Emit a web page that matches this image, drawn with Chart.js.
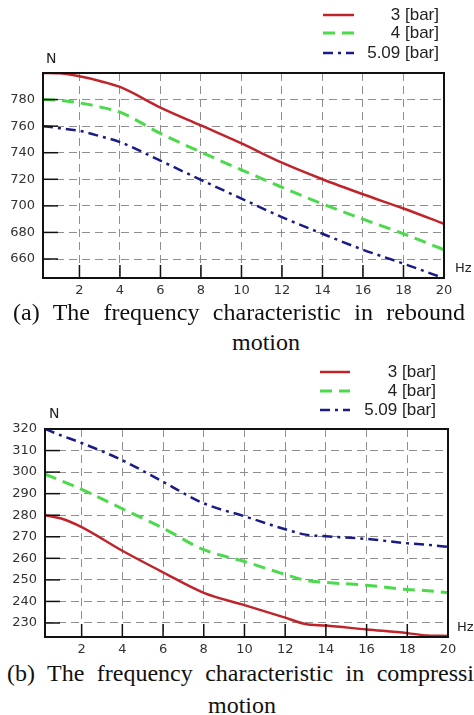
<!DOCTYPE html>
<html>
<head>
<meta charset="utf-8">
<script src="https://cdn.jsdelivr.net/npm/chart.js@4/dist/chart.umd.min.js"></script>
<style>
  html, body { margin: 0; padding: 0; background: #fff; }
  body { position: relative; width: 474px; height: 715px; overflow: hidden; }
  canvas { position: absolute; left: 0; }
  #chart-a { top: 0; }
  #chart-b { top: 350px; }
  .caption {
    position: absolute;
    font-family: "Liberation Serif", "Times New Roman", serif;
    font-size: 24px;
    line-height: 26px;
    color: #111;
    white-space: nowrap;
  }
  .caption.first { text-align: justify; text-align-last: justify; white-space: normal; }
</style>
</head>
<body>
<canvas id="chart-a" width="474" height="300"></canvas>
<div class="caption first" style="top:299px; left:13px; width:452px;">(a) The frequency characteristic in rebound</div>
<div class="caption" style="top:329px; left:232px;">motion</div>

<canvas id="chart-b" width="474" height="310"></canvas>
<div class="caption first" style="top:660px; left:7px; width:491px;">(b) The frequency characteristic in compression</div>
<div class="caption" style="top:692px; left:208px;">motion</div>

<script>
// series labels (shared by both panels)
const seriesLabels = ['3 [bar]', '4 [bar]', '5.09 [bar]'];

// (a) rebound motion
const freqA = [0.2, 1, 2, 3, 4, 6, 8, 10, 12, 14, 16, 18, 20];
const reboundBar3 = [800, 799.8, 797.5, 794, 789.5, 774, 760.5, 747, 732.5, 720, 708.7, 698, 686.5];
const reboundBar4 = [780, 779.5, 777.5, 774.5, 770.5, 754.5, 740.5, 727, 714, 701.5, 690, 679, 667];
const reboundBar509 = [760, 758.5, 756.5, 752.5, 748, 734, 719.5, 705.5, 691.5, 679, 667, 656.5, 645.5];
const yTicksA = [660, 680, 700, 720, 740, 760, 780];

// (b) compression motion
const freqB = [0.2, 1, 2, 4, 6, 8, 10, 12, 13, 14, 16, 18, 19, 20];
const compBar3 = [280, 278.5, 274.5, 263.5, 253.5, 244, 238.3, 232.5, 229.5, 228.8, 227, 225.3, 224.2, 224];
const compBar4 = [299, 296, 292, 283, 274, 264, 258.5, 252.5, 249.8, 248.8, 247.5, 245.5, 245, 244];
const compBar509 = [320, 317, 313.5, 305.5, 295.5, 285.5, 279.5, 273.5, 271, 270.2, 269, 267, 266.3, 265.3];
const yTicksB = [230, 240, 250, 260, 270, 280, 290, 300, 310, 320];

const xTicks = [2, 4, 6, 8, 10, 12, 14, 16, 18, 20];

const styles = [
  { color: '#c0242b', width: 2.5, dash: [] },
  { color: '#4cd94c', width: 3, dash: [12, 7] },
  { color: '#1b1b88', width: 2.5, dash: [10, 5, 3, 5] }
];

const toPoints = (xs, ys) => xs.map((x, i) => ({ x: x, y: ys[i] }));

// frame, inner tick marks, axis names and the right-aligned legend
const decorations = (opts) => ({
  id: 'decorations',
  afterDraw(chart) {
    const ctx = chart.ctx;
    const area = chart.chartArea;
    const xs = chart.scales.x;
    const ys = chart.scales.y;
    ctx.save();

    ctx.strokeStyle = '#111';
    ctx.lineWidth = 1.5;
    ctx.setLineDash([]);
    ys.ticks.forEach(t => {
      const y = ys.getPixelForValue(t.value);
      ctx.beginPath();
      ctx.moveTo(area.left, y);
      ctx.lineTo(area.left + 15, y);
      ctx.stroke();
    });
    xs.ticks.forEach(t => {
      const x = xs.getPixelForValue(t.value);
      ctx.beginPath();
      ctx.moveTo(x, area.bottom);
      ctx.lineTo(x, area.bottom - 13);
      ctx.stroke();
    });
    ctx.lineWidth = 2;
    ctx.strokeRect(area.left, area.top, area.right - area.left, area.bottom - area.top);

    ctx.fillStyle = '#222';
    ctx.font = '14px "DejaVu Sans", sans-serif';
    ctx.textBaseline = 'middle';
    ctx.textAlign = 'left';
    ctx.fillText('N', opts.nPos[0], opts.nPos[1]);
    ctx.font = '13px "DejaVu Sans", sans-serif';
    ctx.fillText('Hz', opts.hzPos[0], opts.hzPos[1]);

    ctx.font = '17px "Liberation Sans", Arial, sans-serif';
    ctx.textAlign = 'right';
    chart.data.datasets.forEach((ds, i) => {
      const y = opts.legendY[i];
      ctx.strokeStyle = ds.borderColor;
      ctx.lineWidth = ds.borderWidth;
      ctx.setLineDash(ds.borderDash);
      ctx.beginPath();
      ctx.moveTo(opts.legendLine[0], y);
      ctx.lineTo(opts.legendLine[1], y);
      ctx.stroke();
      ctx.fillStyle = '#222';
      ctx.fillText(ds.label, opts.legendTextX, y);
    });
    ctx.restore();
  }
});

function makeChart(id, xs, seriesList, yTicks, range, layout) {
  const datasets = seriesList.map((ys, i) => ({
    label: seriesLabels[i],
    data: toPoints(xs, ys),
    borderColor: styles[i].color,
    borderWidth: styles[i].width,
    borderDash: styles[i].dash,
    pointRadius: 0,
    fill: false,
    cubicInterpolationMode: 'monotone'
  }));

  return new Chart(document.getElementById(id), {
    type: 'line',
    data: { datasets: datasets },
    options: {
      responsive: false,
      animation: false,
      layout: { padding: { top: layout.top, right: layout.right, left: 0, bottom: 0 } },
      plugins: { legend: { display: false }, tooltip: { enabled: false } },
      scales: {
        x: {
          type: 'linear',
          min: range.xMin,
          max: 20,
          afterBuildTicks: (s) => { s.ticks = xTicks.map(v => ({ value: v })); },
          afterFit: (s) => { s.height = layout.xHeight; },
          grid: { color: '#8f8f8f', lineWidth: 1, drawTicks: false },
          border: { display: false, dash: [8, 5] },
          ticks: { padding: 5, color: '#333', font: { family: 'DejaVu Sans', size: 13 }, maxRotation: 0 }
        },
        y: {
          min: range.yMin,
          max: range.yMax,
          afterBuildTicks: (s) => { s.ticks = yTicks.map(v => ({ value: v })); },
          afterFit: (s) => { s.width = layout.yWidth; },
          grid: { color: '#8f8f8f', lineWidth: 1, drawTicks: false },
          border: { display: false, dash: [8, 5] },
          ticks: { padding: 8, color: '#333', font: { family: 'DejaVu Sans', size: 13 } }
        }
      }
    },
    plugins: [decorations(layout)]
  });
}

makeChart('chart-a', freqA, [reboundBar3, reboundBar4, reboundBar509], yTicksA,
  { xMin: 0.2, yMin: 645.7, yMax: 800 },
  { top: 73, right: 30, xHeight: 22, yWidth: 43,
    nPos: [46, 59], hzPos: [455, 269],
    legendY: [15, 33, 53], legendLine: [323, 354], legendTextX: 439 });

makeChart('chart-b', freqB, [compBar3, compBar4, compBar509], yTicksB,
  { xMin: 0.2, yMin: 223.5, yMax: 320 },
  { top: 79, right: 26, xHeight: 23, yWidth: 45,
    nPos: [49, 64], hzPos: [457, 278],
    legendY: [22, 41, 60], legendLine: [320, 350], legendTextX: 436 });
</script>
</body>
</html>
